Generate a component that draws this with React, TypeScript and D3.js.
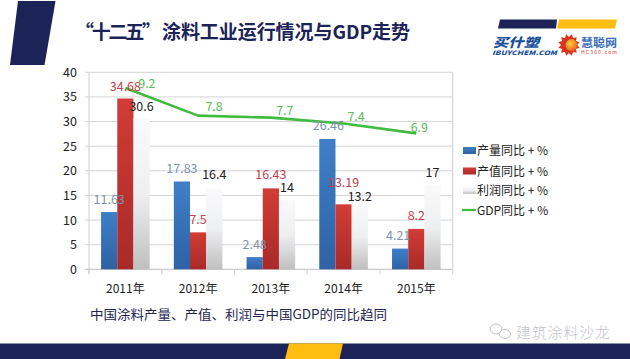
import React from "react";
import * as d3 from "d3";

const categories = ["2011年", "2012年", "2013年", "2014年", "2015年"];
const output = [11.63, 17.83, 2.48, 26.46, 4.21];
const value = [34.68, 7.5, 16.43, 13.19, 8.2];
const profit = [30.6, 16.4, 14, 13.2, 17];
const gdp = [9.2, 7.8, 7.7, 7.4, 6.9];
const yTicks = [0, 5, 10, 15, 20, 25, 30, 35, 40];
const legendLabels = ["产量同比 + %", "产值同比 + %", "利润同比 + %", "GDP同比 + %"];
const titleQuoted = "“十二五”";
const titleRest = "涂料工业运行情况与GDP走势";
const captionText = "中国涂料产量、产值、利润与中国GDP的同比趋同";
const watermarkText = "建筑涂料沙龙";

const FONT = "'Noto Sans CJK SC', 'Noto Sans', sans-serif";
const NAVY = "#1b2357";
const YEL = "#fdbd11";
const GREEN = "#3fbb3f";

const M = { left: 89, right: 452.7, top: 72.3, bottom: 269.3 };
const x = d3.scaleBand<string>().domain(categories).range([M.left, M.right]);
const y = d3.scaleLinear().domain([0, 40]).range([M.bottom, M.top]);
const y2 = d3.scaleLinear().domain([0, 10]).range([M.bottom, M.top]);
const barW = 16.2;
const series = [
  { key: "a", values: output, fill: "url(#gBlue)", offset: -1.5, text: "#7d93ad" },
  { key: "b", values: value, fill: "url(#gRed)", offset: -0.5, text: "#c5404e" },
  { key: "c", values: profit, fill: "url(#gWhite)", offset: 0.5, text: "#222222" },
];
// vertical label gaps
const labelGap: Record<string, number[]> = {
  a: [-8, -8, -8.5, -9, -8.5],
  b: [-8, -8, -9, -17, -9],
  c: [-7.5, -9.5, -8, -3, -9],
};
const labelShift: Record<string, number[]> = {
  a: [0, 0, 0, 1, -2],
  b: [0, 0, 0, 0, 0],
  c: [0, 0, 0, 0, 0],
};
const gdpNudge: [number, number][] = [[21.5, 0], [16, -5], [14, -3], [12.5, -3], [3, -1]];

const line = d3
  .line<number>()
  .x((_, i) => (x(categories[i]) as number) + x.bandwidth() / 2)
  .y((d) => y2(d));

const grad = (id: string, stops: [string, string][]) => (
  <linearGradient id={id} x1="0" y1="0" x2="0" y2="1">
    {stops.map(([o, c]) => (
      <stop key={o} offset={o} stopColor={c} />
    ))}
  </linearGradient>
);

const sunSpikes = d3.range(24).map((i) => {
  const a = (i / 24) * Math.PI * 2;
  const r = i % 2 ? 11 : 8;
  return [569 + r * Math.cos(a), 45 + r * Math.sin(a)].join(",");
}).join(" ");

export default function App() {
  const lx = 463;
  const legendY = [150.5, 171, 190.5, 210];
  return (
    <svg width={630} height={359} viewBox="0 0 630 359" style={{ position: "absolute", left: 0, top: 0, background: "#fff" }} fontFamily={FONT}>
      <defs>
        {grad("gBlue", [["0", "#3f7fc8"], ["1", "#2e62a4"]])}
        {grad("gRed", [["0", "#d23c36"], ["1", "#a82a28"]])}
        {grad("gWhite", [["0", "#fafafc"], ["0.5", "#eeeff1"], ["1", "#bfbfbf"]])}
        <radialGradient id="gSun" cx="0.4" cy="0.4" r="0.7">
          <stop offset="0" stopColor="#ffd23a" />
          <stop offset="1" stopColor="#e8551a" />
        </radialGradient>
      </defs>

      <path d="M18 1H55.5L44.5 65H10Z" fill={NAVY} />
      <text x={75} y={38.5} fontSize={19} fontWeight={700} fill={NAVY} textLength={86} lengthAdjust="spacing">{titleQuoted}</text>
      <text x={162} y={38.5} fontSize={19} fontWeight={700} fill={NAVY} textLength={248}>{titleRest}</text>

      {/* logos */}
      <path d="M500 19.5H557L556 28.5H498Z" fill={NAVY} />
      <path d="M559 19.5H617L615 28.5H557Z" fill={YEL} />
      <text x={493} y={46.5} fontSize={12.5} fontWeight={900} fontStyle="italic" fill="#1b4f9c" textLength={46} lengthAdjust="spacingAndGlyphs">买什塑</text>
      <text x={492} y={54.5} fontSize={6} fontWeight={900} fontStyle="italic" fill="#1b4f9c" textLength={65} lengthAdjust="spacingAndGlyphs">IBUYCHEM.COM</text>
      <polygon points={sunSpikes} fill="#d8341f" />
      <circle cx={571.5} cy={45} r={6} fill="url(#gSun)" />
      <text x={581} y={46.5} fontSize={11} fontWeight={700} fill="#3c6fb8" textLength={36} lengthAdjust="spacingAndGlyphs">慧聪网</text>
      <text x={581} y={53.5} fontSize={5} fill="#d8341f" textLength={36}>HC360.com</text>

      {/* grid */}
      {yTicks.map((t) => (
        <g key={t}>
          <line x1={M.left - 4} x2={M.right} y1={y(t)} y2={y(t)} stroke={t === 0 ? "#bdbdc2" : "#d4d4d8"} strokeWidth={1} />
          <text x={77} y={y(t) + 4.5} textAnchor="end" fontSize={12.5} fill="#222">{t}</text>
        </g>
      ))}
      <line x1={M.left} x2={M.left} y1={M.top} y2={M.bottom + 5} stroke="#d0d0d4" />
      <line x1={M.right} x2={M.right} y1={M.top} y2={M.bottom + 5} stroke="#d0d0d4" />
      {categories.map((c) => (
        <g key={c}>
          <line x1={x(c) as number} x2={x(c) as number} y1={M.bottom} y2={M.bottom + 5} stroke="#d0d0d4" />
          <text x={(x(c) as number) + x.bandwidth() / 2} y={293} textAnchor="middle" fontSize={12} fill="#222">{c}</text>
        </g>
      ))}

      {/* bars */}
      {series.map((s) =>
        s.values.map((v, i) => {
          const cx = (x(categories[i]) as number) + x.bandwidth() / 2;
          return <rect key={s.key + i} x={cx + s.offset * barW} y={y(v)} width={barW} height={M.bottom - y(v)} fill={s.fill} />;
        })
      )}

      {/* line */}
      <path d={line(gdp) as string} fill="none" stroke={GREEN} strokeWidth={2.6} strokeLinejoin="round" />

      {/* labels */}
      {series.map((s) =>
        s.values.map((v, i) => {
          const cx = (x(categories[i]) as number) + x.bandwidth() / 2;
          return (
            <text key={s.key + "t" + i} x={cx + s.offset * barW + barW / 2 + labelShift[s.key][i]} y={y(v) + labelGap[s.key][i]} textAnchor="middle" fontSize={12.5} fill={s.text}>
              {v}
            </text>
          );
        })
      )}
      {gdp.map((v, i) => {
        const cx = (x(categories[i]) as number) + x.bandwidth() / 2;
        return (
          <text key={"g" + i} x={cx + gdpNudge[i][0]} y={y2(v) + gdpNudge[i][1]} textAnchor="middle" fontSize={12.5} fill="#58bd58">
            {v}
          </text>
        );
      })}

      {/* legend */}
      {legendLabels.map((l, i) => (
        <g key={l}>
          {i < 3 ? (
            <rect x={lx} y={legendY[i] - 3.5} width={13} height={7} fill={["url(#gBlue)", "url(#gRed)", "url(#gWhite)"][i]} />
          ) : (
            <line x1={462} x2={476} y1={legendY[i]} y2={legendY[i]} stroke={GREEN} strokeWidth={2.2} />
          )}
          <text x={477} y={legendY[i] + 4.5} fontSize={12} fill="#222">{l}</text>
        </g>
      ))}

      <text x={90} y={319} fontSize={12.6} fill="#23254f" textLength={297} lengthAdjust="spacingAndGlyphs">{captionText}</text>

      {/* watermark */}
      <g fill="none" stroke="#bfc2c6" strokeWidth={1}>
        <ellipse cx={496} cy={329} rx={6} ry={5} />
        <ellipse cx={505} cy={334} rx={5.5} ry={4.5} fill="#fff" />
      </g>
      <text x={516} y={338} fontSize={15} fontWeight={300} fill="#c2c4c8" textLength={94}>{watermarkText}</text>

      {/* footer */}
      <rect x={0} y={343.5} width={630} height={15.5} fill={NAVY} />
      <path d="M289 343.5H343L339.5 359H285Z" fill={YEL} />
    </svg>
  );
}
